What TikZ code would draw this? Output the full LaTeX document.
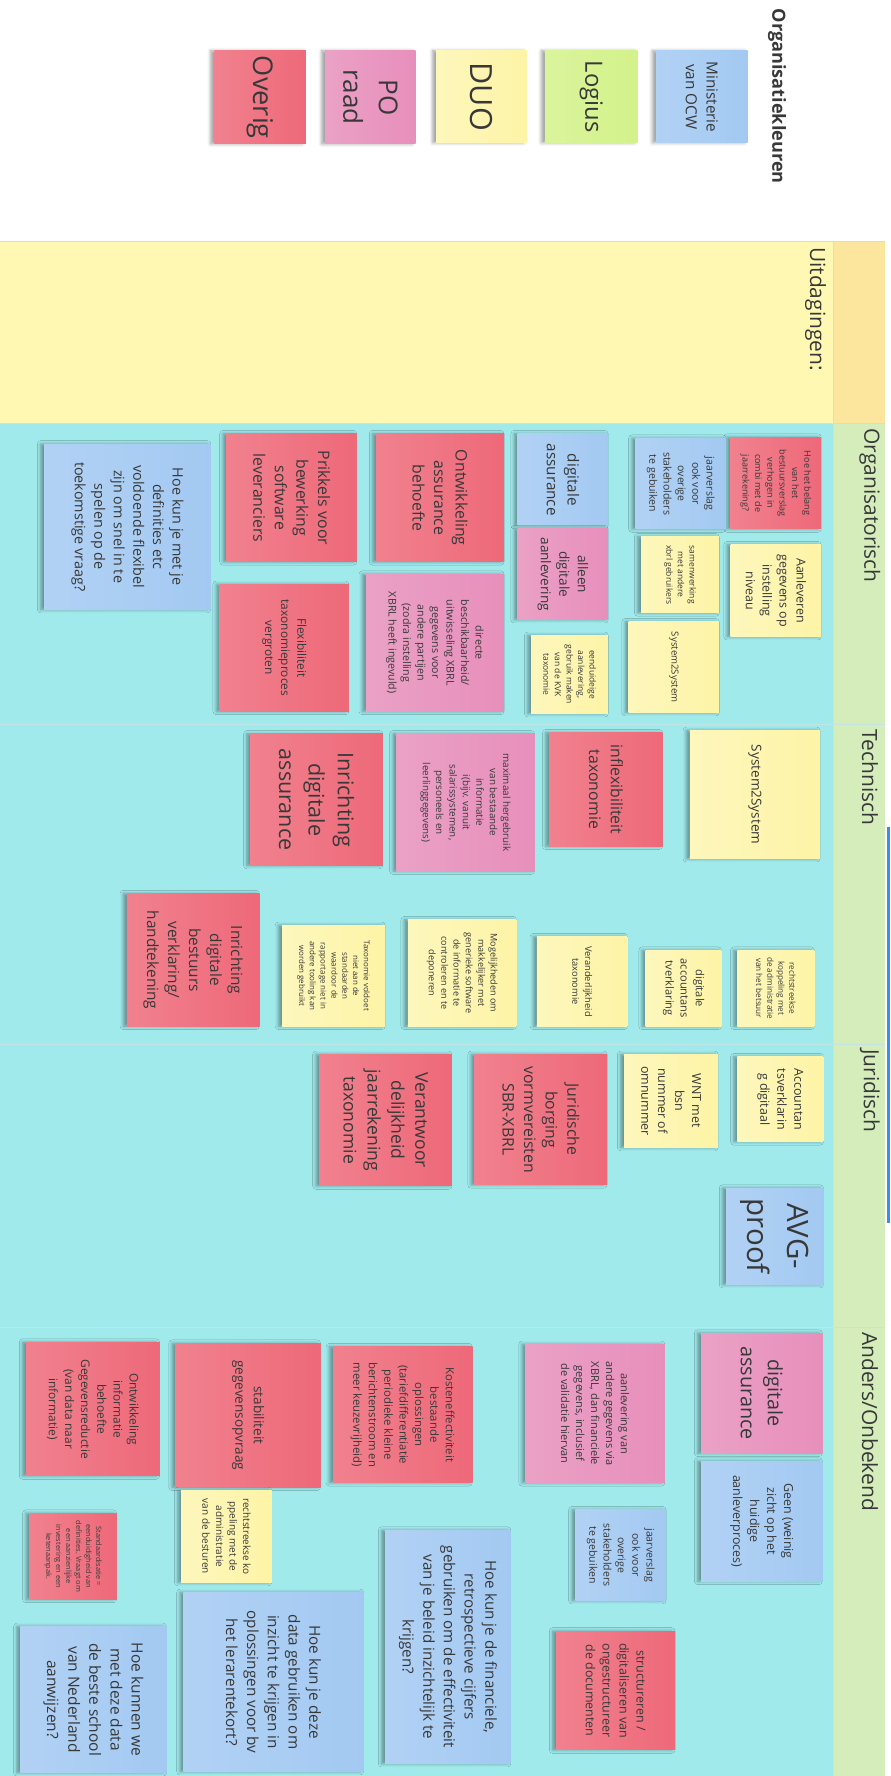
\documentclass[tikz,border=0pt]{standalone}
\usepackage{fontspec}
\setmainfont{Open Sans}
\usetikzlibrary{shadows.blur}
\usepackage{xcolor}
\definecolor{notered}{HTML}{EE6979}
\definecolor{notepink}{HTML}{E78FBB}
\definecolor{noteyellow}{HTML}{FDF4A6}
\definecolor{notegreen}{HTML}{D3F28A}
\definecolor{noteblue}{HTML}{A3C9F2}
\definecolor{notetext}{HTML}{383838}
\definecolor{cyanbg}{HTML}{A0EAEC}
\definecolor{uitbg}{HTML}{FEF8B2}
\definecolor{uithead}{HTML}{FCE59C}
\definecolor{greenhead}{HTML}{D4EDBB}
\definecolor{sepgrey}{HTML}{C3E4E6}
\definecolor{scrollblue}{HTML}{3A8EE6}
\newcommand{\fsz}[1]{\fontsize{#1}{\fpeval{1.36*#1}}\selectfont}
\tikzset{
  note/.style={rectangle, rotate=-90, align=center, inner sep=0pt, text=notetext,
               blur shadow={shadow xshift=-3pt, shadow yshift=0pt,
                            shadow blur radius=3pt, shadow opacity=38}},
  red/.style={right color=notered, left color=notered!84!white},
  pink/.style={right color=notepink, left color=notepink!84!white},
  yellow/.style={right color=noteyellow, left color=noteyellow!75!white},
  green/.style={right color=notegreen, left color=notegreen!84!white},
  blue/.style={right color=noteblue, left color=noteblue!84!white},
  wh/.style 2 args={minimum height=#1, minimum width=#2},
  rowlab/.style={rotate=-90, anchor=west, inner sep=0pt, font=\fsz{18.5}, text=notetext},
  sepline/.style={draw=sepgrey, line width=0.8pt},
}

\begin{document}
\begin{tikzpicture}[x=1pt, y=-1pt]
  \useasboundingbox (0,0) rectangle (786,1568);

  % --- Board background ---
  \fill[uitbg] (0,213) rectangle (736,374);
  \fill[uithead] (736,213) rectangle (781,374);
  \fill[cyanbg] (0,374) rectangle (736,1568);
  \fill[greenhead] (736,374) rectangle (781,1568);
  \draw[sepline] (0,213) -- (781,213);
  \foreach \y in {374,640,922,1172} {
    \draw[sepline] (0,\y) -- (781,\y);
  }
  \draw[sepline] (736,213) -- (736,1568);
  \fill[scrollblue] (783,730) rectangle (786,1080);

  % --- Legend ---
  \node[rotate=-90, inner sep=0pt, text=notetext, font=\fsz{16}\bfseries] (legtitle) at (686,85) {Organisatiekleuren};
  \node[note, red,    wh={81}{82}, font=\fsz{24}] (ovr) at (229.5,86) {Overig};
  \node[note, pink,   wh={80}{82}, font=\fsz{23}] (po)  at (327,86)   {PO\\raad};
  \node[note, yellow, wh={80}{81}, font=\fsz{27}] (duo) at (425,85.5) {DUO};
  \node[note, green,  wh={82}{81}, font=\fsz{21}] (log) at (522,85.5) {Logius};
  \node[note, blue,   wh={81}{81}, font=\fsz{13.5}] (ocw) at (619.5,85.5) {Ministerie\\van OCW};

  % --- Row labels ---
  \node[rowlab] (uit)  at (720,218)  {Uitdagingen:};
  \node[rowlab] (rorg) at (768,378)  {Organisatorisch};
  \node[rowlab] (rtec) at (768,644)  {Technisch};
  \node[rowlab] (rjur) at (768,926)  {Juridisch};
  \node[rowlab] (rand) at (768,1176) {Anders/Onbekend};

  % --- Organisatorisch ---
  \node[note, red,    wh={80}{81},   font=\fsz{8}]    (o1)  at (685,426.5) {Hoe het belang\\van het\\bestuursverslag\\verhogen in\\combi met de\\jaarrekening?};
  \node[note, yellow, wh={80}{81},   font=\fsz{11}]   (o2)  at (685,521.5) {Aanleveren\\gegevens op\\instelling\\niveau};
  \node[note, blue,   wh={80}{80},   font=\fsz{9.3}]  (o3)  at (601,427)   {jaarverslag\\ook voor\\overige\\stakeholders\\te gebuiken};
  \node[note, yellow, wh={69}{67},   font=\fsz{7.5}]  (o4)  at (600.5,507.5) {samenwerking\\met andere\\xbrl gebruikers};
  \node[note, yellow, wh={80}{80},   font=\fsz{8.5}]  (o5)  at (595,589)   {System2System};
  \node[note, blue,   wh={80}{81},   font=\fsz{13.5}] (o6)  at (497,423.5) {digitale\\assurance};
  \node[note, pink,   wh={80}{80},   font=\fsz{12}]   (o7)  at (497,507)   {alleen\\digitale\\aanlevering};
  \node[note, yellow, wh={68}{69},   font=\fsz{7.5}]  (o8)  at (503,595.5) {eenduideige\\aanlevering,\\gebruik maken\\van de KVK\\taxonomie};
  \node[note, red,    wh={113}{113}, font=\fsz{14}]   (o9)  at (388.5,439.5) {Ontwikkeling\\assurance\\behoefte};
  \node[note, pink,   wh={122}{121}, font=\fsz{9.4}]  (o10) at (384,567.5) {directe\\beschikbaarheid/\\uitwisseling XBRL\\gegevens voor\\andere partijen\\(zodra instelling\\XBRL heeft ingevuld)};
  \node[note, red,    wh={115}{113}, font=\fsz{14}]   (o11) at (257.5,439.5) {Prikkels voor\\bewerking\\software\\leveranciers};
  \node[note, red,    wh={114}{112}, font=\fsz{10.5}] (o12) at (251,572)   {Flexibiliteit\\taxonomieproces\\vergroten};
  \node[note, blue,   wh={147}{146}, font=\fsz{12.7}] (o13) at (112.5,465) {Hoe kun je met je\\definities etc\\voldoende flexibel\\zijn om snel in te\\spelen op de\\toekomstige vraag?};

  % --- Technisch ---
  \node[note, yellow, wh={115}{113}, font=\fsz{12}]   (t1)  at (666.5,701.5) {System2System};
  \node[note, red,    wh={100}{100}, font=\fsz{14}]   (t2)  at (535,697)   {inflexibiliteit\\taxonomie};
  \node[note, pink,   wh={122}{121}, font=\fsz{8.7}]  (t3)  at (411,708.5) {maximaal hergebruik\\van bestaande\\informatie\\i(bijv. vanuit\\salarissystemen,\\personeels en\\leerlinggegevens)};
  \node[note, red,    wh={117}{116}, font=\fsz{19}]   (t4)  at (279.5,706) {Inrichting\\digitale\\assurance};
  \node[note, yellow, wh={68}{67},   font=\fsz{7.2}]  (t5)  at (685,872.5) {rechtstreekse\\koppeling met\\de administratie\\van het betsuur};
  \node[note, yellow, wh={67}{67},   font=\fsz{9.8}]  (t6)  at (603.5,872.5) {digitale\\accountans\\tverklaring};
  \node[note, yellow, wh={80}{79},   font=\fsz{8.2}]  (t7)  at (514,866.5) {Veranderlijkheid\\taxonomie};
  \node[note, yellow, wh={96}{94},   font=\fsz{8}]    (t8)  at (408,859)   {Mogelijkheden om\\makkelijker met\\generieke software\\de informatie te\\controleren en te\\deponeren};
  \node[note, yellow, wh={91}{89},   font=\fsz{7}]    (t9)  at (294.5,861.5) {Taxonomie voldoet\\niet aan de\\standaarden\\waardoor de\\rapportage niet in\\andere tooling kan\\worden gebruikt};
  \node[note, red,    wh={117}{117}, font=\fsz{13.6}] (t10) at (170.5,847.5) {Inrichting\\digitale\\bestuurs\\verklaring/\\handtekening};

  % --- Juridisch ---
  \node[note, yellow, wh={76}{75},   font=\fsz{11}]   (j1)  at (689,970.5) {Accountan\\tsverklarin\\g digitaal};
  \node[note, yellow, wh={83}{82},   font=\fsz{11}]   (j2)  at (592.5,972) {WNT met\\bsn\\nummer of\\omnummer};
  \node[note, red,    wh={117}{115}, font=\fsz{14}]   (j3)  at (477.5,988.5) {Juridische\\borging\\vormvereisten\\SBR-XBRL};
  \node[note, red,    wh={117}{116}, font=\fsz{15.5}] (j4)  at (340.5,989) {Verantwoor\\delijkheid\\jaarrekening\\taxonomie};
  \node[note, blue,   wh={86}{85},   font=\fsz{26}]   (j5)  at (684,1091.5) {AVG-\\proof};

  % --- Anders/Onbekend ---
  \node[note, pink,   wh={107}{106}, font=\fsz{17.5}] (a1)  at (672.5,1230) {digitale\\assurance};
  \node[note, blue,   wh={107}{106}, font=\fsz{11}]   (a2)  at (672.5,1343) {Geen (weinig\\zicht op het\\huidige\\aanleverproces)};
  \node[note, pink,   wh={123}{122}, font=\fsz{9.7}]  (a3)  at (525.5,1248) {aanlevering van\\andere gegevens via\\XBRL, dan financiele\\gegevens, inclusief\\de validatie hiervan};
  \node[note, blue,   wh={80}{80},   font=\fsz{9.3}]  (a4)  at (548,1373)  {jaarverslag\\ook voor\\overige\\stakeholders\\te gebuiken};
  \node[note, red,    wh={105}{105}, font=\fsz{11}]   (a5)  at (543.5,1492.5) {structureren /\\digitaliseren van\\ongestructureer\\de documenten};
  \node[note, red,    wh={123}{120}, font=\fsz{10}]   (a6)  at (355.5,1249) {Kosteneffectiviteit\\bestaande\\oplossingen\\(tariefdifferentiatie\\periodieke kleine\\berichtenstroom en\\meer keuzevrijheid)};
  \node[note, red,    wh={128}{127}, font=\fsz{12}]   (a7)  at (219,1249.5) {stabiliteit\\gegevensopvraag};
  \node[note, blue,   wh={111}{206}, font=\fsz{13.4}] (a8)  at (395.5,1454) {Hoe kun je de financiele,\\retrospectieve cijfers\\gebruiken om de effectiviteit\\van je beleid inzichtelijk te\\krijgen?};
  \node[note, yellow, wh={80}{81},   font=\fsz{8.8}]  (a9)  at (200,1356.5) {rechtstreekse ko\\ppeling met de\\administratie\\van de besturen};
  \node[note, blue,   wh={159}{158}, font=\fsz{13.5}] (a10) at (241.5,1485) {Hoe kun je deze\\data gebruiken om\\inzicht te krijgen in\\oplossingen voor bv\\het lerarentekort?};
  \node[note, red,    wh={118}{118}, font=\fsz{10.5}] (a11) at (82,1244)   {Ontwikkeling\\informatie\\behoefte\\Gegevensreductie\\(van data naar\\informatie)};
  \node[note, red,    wh={77}{76},   font=\fsz{6.5}]  (a12) at (64.5,1374)  {Standaardisatie =\\eenduidigheid van\\definities. Vraagt om\\een aanzienlijke\\investering en een\\ketenaanpak.};
  \node[note, blue,   wh={129}{129}, font=\fsz{13.7}] (a13) at (82.5,1500.5) {Hoe kunnen we\\met deze data\\de beste school\\van Nederland\\aanwijzen?};

\end{tikzpicture}
\end{document}
